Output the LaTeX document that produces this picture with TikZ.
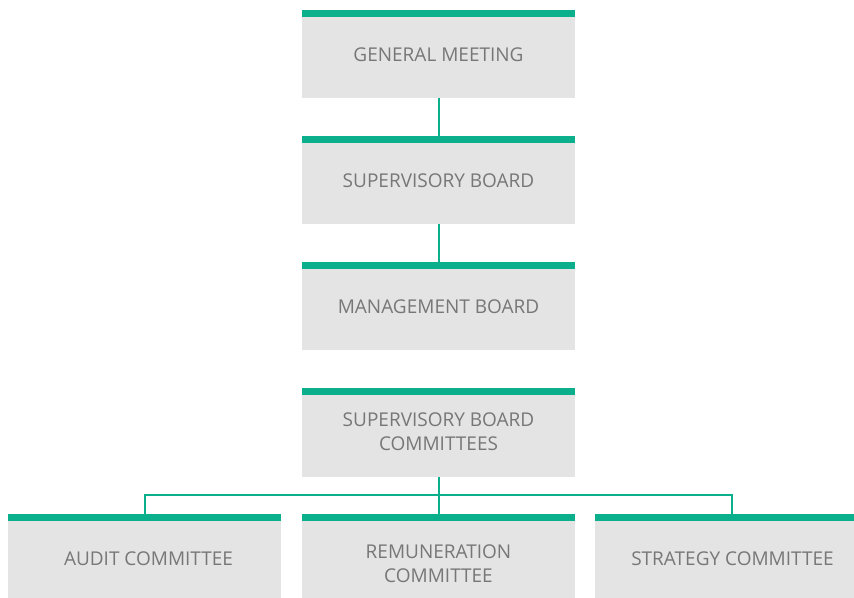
\documentclass[tikz,border=0pt]{standalone}
\usepackage{fontspec}
\setmainfont{Open Sans}
\definecolor{grn}{HTML}{0BAF8C}
\definecolor{boxgray}{HTML}{E4E4E4}
\definecolor{txt}{HTML}{777777}
\begin{document}
\begin{tikzpicture}[x=1pt,y=-1pt,
  orgbox/.style={fill=boxgray, draw=none, minimum width=273pt, inner sep=0pt, anchor=north},
  lbl/.style={text=txt, font=\fontsize{19}{24}\selectfont, align=center, anchor=base, inner sep=0pt},
  conn/.style={draw=grn, line width=2pt}]
\useasboundingbox (0,0) rectangle (854,597);
% boxes
\node[orgbox, minimum height=81pt] (gm) at (438.5,17) {};
\node[orgbox, minimum height=81pt] (sb) at (438.5,143) {};
\node[orgbox, minimum height=81pt] (mb) at (438.5,269) {};
\node[orgbox, minimum height=82pt] (sbc) at (438.5,395) {};
\node[orgbox, minimum height=80pt] (ac) at (144.5,520.5) {};
\node[orgbox, minimum height=80pt] (rc) at (438.5,520.5) {};
\node[orgbox, minimum height=80pt] (sc) at (731.5,520.5) {};
% green bars
\foreach \n in {gm,sb,mb,sbc,ac,rc,sc}{
  \fill[grn] ([yshift=7pt]\n.north west) rectangle (\n.north east);
}
% labels
\node[lbl] (gmt) at (438.5,61.5) {GENERAL MEETING};
\node[lbl] (sbt) at (438.5,187) {SUPERVISORY BOARD};
\node[lbl] (mbt) at (438.5,313) {MANAGEMENT BOARD};
\node[lbl] (sbct) at (438.5,450.5) {SUPERVISORY BOARD\\COMMITTEES};
\node[lbl] (act) at (148.5,565) {AUDIT COMMITTEE};
\node[lbl] (rct) at (438.5,582) {REMUNERATION\\COMMITTEE};
\node[lbl] (sct) at (732.5,565) {STRATEGY COMMITTEE};
% connectors
\draw[conn] (gm.south) -- ([yshift=7pt]sb.north);
\draw[conn] (sb.south) -- ([yshift=7pt]mb.north);
\coordinate (hub) at (438.5,495);
\draw[conn] (sbc.south) -- ([yshift=7pt]rc.north);
\draw[conn] ([yshift=7pt]ac.north) |- (hub) -| ([yshift=7pt]sc.north);
\end{tikzpicture}
\end{document}
